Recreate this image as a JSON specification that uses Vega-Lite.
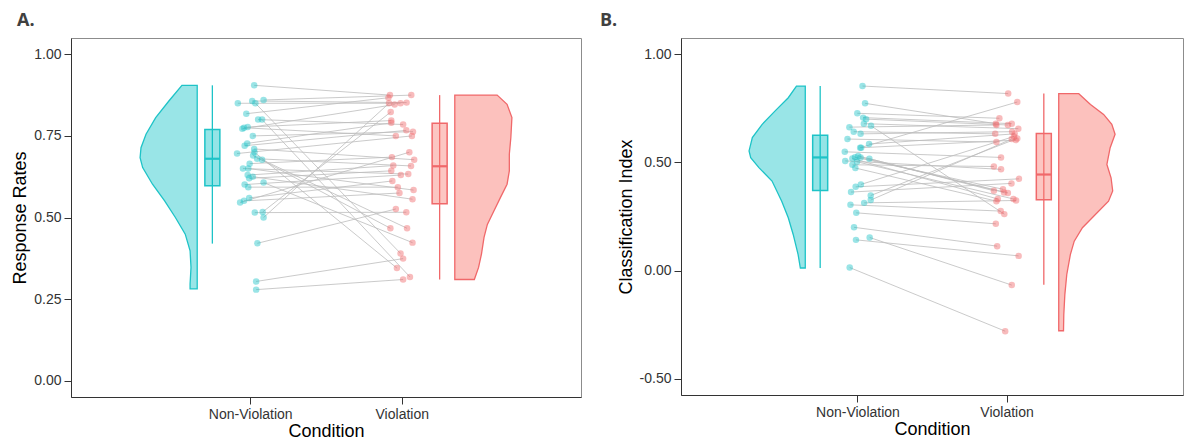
{
"$schema": "https://vega.github.io/schema/vega-lite/v6.json",
"padding": {"left": 11, "top": 11, "right": 0, "bottom": 0},
"background": "white",
"datasets": {
"ptsA": [
{"id":1,"cond":"Non-Violation","x":1.026,"y":0.905},{"id":2,"cond":"Non-Violation","x":1.088,"y":0.860},{"id":3,"cond":"Non-Violation","x":1.013,"y":0.857},{"id":4,"cond":"Non-Violation","x":0.918,"y":0.850},{"id":5,"cond":"Non-Violation","x":1.034,"y":0.850},{"id":6,"cond":"Non-Violation","x":0.974,"y":0.818},{"id":7,"cond":"Non-Violation","x":1.052,"y":0.800},{"id":8,"cond":"Non-Violation","x":1.078,"y":0.800},{"id":9,"cond":"Non-Violation","x":0.983,"y":0.777},{"id":10,"cond":"Non-Violation","x":0.959,"y":0.775},{"id":11,"cond":"Non-Violation","x":0.948,"y":0.772},{"id":12,"cond":"Non-Violation","x":1.017,"y":0.750},{"id":13,"cond":"Non-Violation","x":0.980,"y":0.727},{"id":14,"cond":"Non-Violation","x":0.963,"y":0.720},{"id":15,"cond":"Non-Violation","x":1.026,"y":0.710},{"id":16,"cond":"Non-Violation","x":1.028,"y":0.700},{"id":17,"cond":"Non-Violation","x":0.913,"y":0.696},{"id":18,"cond":"Non-Violation","x":1.019,"y":0.690},{"id":19,"cond":"Non-Violation","x":1.045,"y":0.680},{"id":20,"cond":"Non-Violation","x":1.078,"y":0.677},{"id":21,"cond":"Non-Violation","x":0.996,"y":0.665},{"id":22,"cond":"Non-Violation","x":0.952,"y":0.650},{"id":23,"cond":"Non-Violation","x":0.987,"y":0.650},{"id":24,"cond":"Non-Violation","x":0.983,"y":0.630},{"id":25,"cond":"Non-Violation","x":1.017,"y":0.625},{"id":26,"cond":"Non-Violation","x":0.993,"y":0.620},{"id":27,"cond":"Non-Violation","x":1.088,"y":0.607},{"id":28,"cond":"Non-Violation","x":0.963,"y":0.601},{"id":29,"cond":"Non-Violation","x":0.987,"y":0.593},{"id":30,"cond":"Non-Violation","x":0.993,"y":0.560},{"id":31,"cond":"Non-Violation","x":0.959,"y":0.551},{"id":32,"cond":"Non-Violation","x":0.933,"y":0.546},{"id":33,"cond":"Non-Violation","x":1.082,"y":0.517},{"id":34,"cond":"Non-Violation","x":1.030,"y":0.515},{"id":35,"cond":"Non-Violation","x":1.088,"y":0.500},{"id":36,"cond":"Non-Violation","x":1.047,"y":0.421},{"id":37,"cond":"Non-Violation","x":1.039,"y":0.304},{"id":38,"cond":"Non-Violation","x":1.039,"y":0.279},
{"id":1,"cond":"Violation","x":1.922,"y":0.875},{"id":2,"cond":"Violation","x":2.063,"y":0.875},{"id":3,"cond":"Violation","x":2.032,"y":0.852},{"id":4,"cond":"Violation","x":1.992,"y":0.850},{"id":5,"cond":"Violation","x":1.992,"y":0.390},{"id":6,"cond":"Violation","x":1.912,"y":0.867},{"id":7,"cond":"Violation","x":2.009,"y":0.785},{"id":8,"cond":"Violation","x":2.054,"y":0.318},{"id":9,"cond":"Violation","x":1.931,"y":0.797},{"id":10,"cond":"Violation","x":1.961,"y":0.750},{"id":11,"cond":"Violation","x":1.953,"y":0.846},{"id":12,"cond":"Violation","x":2.074,"y":0.763},{"id":13,"cond":"Violation","x":1.931,"y":0.790},{"id":14,"cond":"Violation","x":2.030,"y":0.767},{"id":15,"cond":"Violation","x":2.082,"y":0.677},{"id":16,"cond":"Violation","x":1.968,"y":0.345},{"id":17,"cond":"Violation","x":2.067,"y":0.750},{"id":18,"cond":"Violation","x":1.925,"y":0.467},{"id":19,"cond":"Violation","x":2.061,"y":0.658},{"id":20,"cond":"Violation","x":2.035,"y":0.467},{"id":21,"cond":"Violation","x":1.935,"y":0.685},{"id":22,"cond":"Violation","x":2.043,"y":0.633},{"id":23,"cond":"Violation","x":2.078,"y":0.584},{"id":24,"cond":"Violation","x":1.944,"y":0.659},{"id":25,"cond":"Violation","x":2.071,"y":0.556},{"id":26,"cond":"Violation","x":1.931,"y":0.643},{"id":27,"cond":"Violation","x":2.071,"y":0.423},{"id":28,"cond":"Violation","x":1.994,"y":0.630},{"id":29,"cond":"Violation","x":1.974,"y":0.593},{"id":30,"cond":"Violation","x":1.938,"y":0.612},{"id":31,"cond":"Violation","x":1.985,"y":0.575},{"id":32,"cond":"Violation","x":2.050,"y":0.700},{"id":33,"cond":"Violation","x":1.927,"y":0.823},{"id":34,"cond":"Violation","x":2.030,"y":0.516},{"id":35,"cond":"Violation","x":1.916,"y":0.850},{"id":36,"cond":"Violation","x":1.961,"y":0.526},{"id":37,"cond":"Violation","x":2.009,"y":0.374},{"id":38,"cond":"Violation","x":2.009,"y":0.310}
],
"ptsB": [
{"id":1,"cond":"Non-Violation","x":1.034,"y":0.853},{"id":2,"cond":"Non-Violation","x":1.051,"y":0.773},{"id":3,"cond":"Non-Violation","x":0.999,"y":0.727},{"id":4,"cond":"Non-Violation","x":1.038,"y":0.707},{"id":5,"cond":"Non-Violation","x":1.058,"y":0.700},{"id":6,"cond":"Non-Violation","x":1.043,"y":0.679},{"id":7,"cond":"Non-Violation","x":1.091,"y":0.669},{"id":8,"cond":"Non-Violation","x":0.946,"y":0.663},{"id":9,"cond":"Non-Violation","x":0.975,"y":0.642},{"id":10,"cond":"Non-Violation","x":1.021,"y":0.632},{"id":11,"cond":"Non-Violation","x":0.933,"y":0.608},{"id":12,"cond":"Non-Violation","x":1.078,"y":0.585},{"id":13,"cond":"Non-Violation","x":1.018,"y":0.568},{"id":14,"cond":"Non-Violation","x":1.025,"y":0.568},{"id":15,"cond":"Non-Violation","x":0.915,"y":0.549},{"id":16,"cond":"Non-Violation","x":1.005,"y":0.530},{"id":17,"cond":"Non-Violation","x":0.984,"y":0.524},{"id":18,"cond":"Non-Violation","x":1.021,"y":0.523},{"id":19,"cond":"Non-Violation","x":0.966,"y":0.518},{"id":20,"cond":"Non-Violation","x":1.080,"y":0.517},{"id":21,"cond":"Non-Violation","x":0.918,"y":0.507},{"id":22,"cond":"Non-Violation","x":0.997,"y":0.503},{"id":23,"cond":"Non-Violation","x":0.966,"y":0.489},{"id":24,"cond":"Non-Violation","x":0.986,"y":0.474},{"id":25,"cond":"Non-Violation","x":1.023,"y":0.398},{"id":26,"cond":"Non-Violation","x":0.988,"y":0.387},{"id":27,"cond":"Non-Violation","x":0.957,"y":0.363},{"id":28,"cond":"Non-Violation","x":1.089,"y":0.347},{"id":29,"cond":"Non-Violation","x":1.089,"y":0.326},{"id":30,"cond":"Non-Violation","x":1.045,"y":0.313},{"id":31,"cond":"Non-Violation","x":0.953,"y":0.304},{"id":32,"cond":"Non-Violation","x":0.992,"y":0.267},{"id":33,"cond":"Non-Violation","x":0.977,"y":0.200},{"id":34,"cond":"Non-Violation","x":1.082,"y":0.153},{"id":35,"cond":"Non-Violation","x":0.990,"y":0.142},{"id":36,"cond":"Non-Violation","x":0.948,"y":0.014},
{"id":1,"cond":"Violation","x":2.011,"y":0.818},{"id":2,"cond":"Violation","x":1.928,"y":0.679},{"id":3,"cond":"Violation","x":1.952,"y":0.704},{"id":4,"cond":"Violation","x":2.035,"y":0.679},{"id":5,"cond":"Violation","x":2.009,"y":0.673},{"id":6,"cond":"Violation","x":2.079,"y":0.656},{"id":7,"cond":"Violation","x":1.985,"y":0.261},{"id":8,"cond":"Violation","x":1.932,"y":0.673},{"id":9,"cond":"Violation","x":1.924,"y":0.632},{"id":10,"cond":"Violation","x":2.037,"y":0.642},{"id":11,"cond":"Violation","x":1.932,"y":0.594},{"id":12,"cond":"Violation","x":2.055,"y":0.632},{"id":13,"cond":"Violation","x":2.072,"y":0.779},{"id":14,"cond":"Violation","x":2.062,"y":0.603},{"id":15,"cond":"Violation","x":1.963,"y":0.523},{"id":16,"cond":"Violation","x":1.983,"y":0.361},{"id":17,"cond":"Violation","x":1.976,"y":0.376},{"id":18,"cond":"Violation","x":2.009,"y":0.359},{"id":19,"cond":"Violation","x":1.941,"y":0.331},{"id":20,"cond":"Violation","x":1.915,"y":0.369},{"id":21,"cond":"Violation","x":1.963,"y":0.468},{"id":22,"cond":"Violation","x":2.046,"y":0.331},{"id":23,"cond":"Violation","x":1.915,"y":0.481},{"id":24,"cond":"Violation","x":1.932,"y":0.321},{"id":25,"cond":"Violation","x":2.050,"y":0.620},{"id":26,"cond":"Violation","x":2.083,"y":0.424},{"id":27,"cond":"Violation","x":2.033,"y":0.403},{"id":28,"cond":"Violation","x":2.072,"y":0.611},{"id":29,"cond":"Violation","x":2.035,"y":0.608},{"id":30,"cond":"Violation","x":2.064,"y":0.324},{"id":31,"cond":"Violation","x":1.961,"y":0.275},{"id":32,"cond":"Violation","x":1.928,"y":0.216},{"id":33,"cond":"Violation","x":1.937,"y":0.113},{"id":34,"cond":"Violation","x":2.035,"y":-0.067},{"id":35,"cond":"Violation","x":2.081,"y":0.068},{"id":36,"cond":"Violation","x":1.991,"y":-0.280}
],
"violA": [
{"cond":"Non-Violation","y":0.281,"edge":0.603},{"cond":"Non-Violation","y":0.296,"edge":0.603},{"cond":"Non-Violation","y":0.347,"edge":0.609},{"cond":"Non-Violation","y":0.398,"edge":0.603},{"cond":"Non-Violation","y":0.449,"edge":0.571},{"cond":"Non-Violation","y":0.500,"edge":0.506},{"cond":"Non-Violation","y":0.551,"edge":0.435},{"cond":"Non-Violation","y":0.602,"edge":0.355},{"cond":"Non-Violation","y":0.653,"edge":0.290},{"cond":"Non-Violation","y":0.683,"edge":0.273},{"cond":"Non-Violation","y":0.714,"edge":0.279},{"cond":"Non-Violation","y":0.755,"edge":0.312},{"cond":"Non-Violation","y":0.806,"edge":0.376},{"cond":"Non-Violation","y":0.857,"edge":0.463},{"cond":"Non-Violation","y":0.905,"edge":0.549},
{"cond":"Violation","y":0.310,"edge":2.479},{"cond":"Violation","y":0.347,"edge":2.507},{"cond":"Violation","y":0.388,"edge":2.526},{"cond":"Violation","y":0.439,"edge":2.543},{"cond":"Violation","y":0.479,"edge":2.565},{"cond":"Violation","y":0.520,"edge":2.608},{"cond":"Violation","y":0.561,"edge":2.651},{"cond":"Violation","y":0.602,"edge":2.695},{"cond":"Violation","y":0.643,"edge":2.710},{"cond":"Violation","y":0.694,"edge":2.710},{"cond":"Violation","y":0.745,"edge":2.720},{"cond":"Violation","y":0.806,"edge":2.727},{"cond":"Violation","y":0.847,"edge":2.695},{"cond":"Violation","y":0.875,"edge":2.630}
],
"violB": [
{"cond":"Non-Violation","y":0.012,"edge":0.617},{"cond":"Non-Violation","y":0.074,"edge":0.602},{"cond":"Non-Violation","y":0.167,"edge":0.569},{"cond":"Non-Violation","y":0.244,"edge":0.536},{"cond":"Non-Violation","y":0.321,"edge":0.492},{"cond":"Non-Violation","y":0.414,"edge":0.427},{"cond":"Non-Violation","y":0.476,"edge":0.339},{"cond":"Non-Violation","y":0.522,"edge":0.284},{"cond":"Non-Violation","y":0.553,"edge":0.273},{"cond":"Non-Violation","y":0.615,"edge":0.295},{"cond":"Non-Violation","y":0.676,"edge":0.361},{"cond":"Non-Violation","y":0.738,"edge":0.448},{"cond":"Non-Violation","y":0.799,"edge":0.536},{"cond":"Non-Violation","y":0.853,"edge":0.591},
{"cond":"Violation","y":-0.278,"edge":2.382},{"cond":"Violation","y":-0.203,"edge":2.384},{"cond":"Violation","y":-0.111,"edge":2.391},{"cond":"Violation","y":-0.018,"edge":2.404},{"cond":"Violation","y":0.074,"edge":2.428},{"cond":"Violation","y":0.136,"edge":2.454},{"cond":"Violation","y":0.198,"edge":2.509},{"cond":"Violation","y":0.259,"edge":2.596},{"cond":"Violation","y":0.321,"edge":2.684},{"cond":"Violation","y":0.368,"edge":2.712},{"cond":"Violation","y":0.429,"edge":2.701},{"cond":"Violation","y":0.491,"edge":2.673},{"cond":"Violation","y":0.568,"edge":2.695},{"cond":"Violation","y":0.630,"edge":2.728},{"cond":"Violation","y":0.676,"edge":2.706},{"cond":"Violation","y":0.722,"edge":2.651},{"cond":"Violation","y":0.768,"edge":2.563},{"cond":"Violation","y":0.818,"edge":2.483}
],
"boxA": [
{"cond":"Non-Violation","pos":0.75,"lo":0.42,"q1":0.597,"med":0.68,"q3":0.77,"hi":0.905},
{"cond":"Violation","pos":2.25,"lo":0.31,"q1":0.542,"med":0.657,"q3":0.789,"hi":0.875}
],
"boxB": [
{"cond":"Non-Violation","pos":0.75,"lo":0.012,"q1":0.370,"med":0.523,"q3":0.626,"hi":0.853},
{"cond":"Violation","pos":2.25,"lo":-0.065,"q1":0.327,"med":0.444,"q3":0.634,"hi":0.818}
]
},
"hconcat": [
{
"width": 510, "height": 359,
"title": {"text": "A.", "anchor": "start", "frame": "group", "dx": -54, "offset": -6, "baseline": "alphabetic", "fontSize": 18, "fontWeight": "bold", "font": "Open Sans", "color": "#404040"},
"layer": [
{"data": {"name": "ptsA"}, "mark": {"type": "line", "color": "#bdbdbd", "strokeWidth": 1, "opacity": 0.8},
 "encoding": {
  "x": {"field": "x", "type": "quantitative", "scale": {"domain": [-0.15, 3.15], "nice": false, "zero": false}, "axis": {"values": [1, 2], "labelExpr": "datum.value == 1 ? 'Non-Violation' : 'Violation'"}, "title": "Condition"},
  "y": {"field": "y", "type": "quantitative", "scale": {"domain": [-0.05, 1.05], "nice": false, "zero": false}, "axis": {"values": [0, 0.25, 0.5, 0.75, 1], "format": ".2f"}, "title": "Response Rates"},
  "detail": {"field": "id", "type": "nominal"}}},
{"data": {"name": "boxA"}, "mark": {"type": "rule", "strokeWidth": 1.3},
 "encoding": {
  "x": {"field": "pos", "type": "quantitative", "scale": {"domain": [-0.15, 3.15], "nice": false, "zero": false}, "title": "Condition"},
  "y": {"field": "lo", "type": "quantitative", "scale": {"domain": [-0.05, 1.05], "nice": false, "zero": false}, "title": "Response Rates"},
  "y2": {"field": "hi"},
  "color": {"field": "cond", "type": "nominal", "scale": {"domain": ["Non-Violation", "Violation"], "range": ["#1ec3c7", "#f0686a"]}, "legend": null}}},
{"data": {"name": "boxA"}, "mark": {"type": "bar", "width": 15, "opacity": 1, "fillOpacity": 0.42, "strokeWidth": 1.5},
 "encoding": {
  "x": {"field": "pos", "type": "quantitative", "scale": {"domain": [-0.15, 3.15], "nice": false, "zero": false}, "title": "Condition"},
  "y": {"field": "q1", "type": "quantitative", "scale": {"domain": [-0.05, 1.05], "nice": false, "zero": false}, "title": "Response Rates"},
  "y2": {"field": "q3"},
  "fill": {"field": "cond", "type": "nominal", "scale": {"domain": ["Non-Violation", "Violation"], "range": ["#00BFC4", "#F8766D"]}, "legend": null},
  "stroke": {"field": "cond", "type": "nominal", "scale": {"domain": ["Non-Violation", "Violation"], "range": ["#1ec3c7", "#f0686a"]}, "legend": null}}},
{"data": {"name": "boxA"}, "mark": {"type": "tick", "orient": "horizontal", "size": 15, "thickness": 2.2, "opacity": 1},
 "encoding": {
  "x": {"field": "pos", "type": "quantitative", "scale": {"domain": [-0.15, 3.15], "nice": false, "zero": false}, "title": "Condition"},
  "y": {"field": "med", "type": "quantitative", "scale": {"domain": [-0.05, 1.05], "nice": false, "zero": false}, "title": "Response Rates"},
  "color": {"field": "cond", "type": "nominal", "scale": {"domain": ["Non-Violation", "Violation"], "range": ["#1ec3c7", "#f0686a"]}, "legend": null}}},
{"data": {"name": "violA"}, "transform": [{"filter": "datum.cond == 'Non-Violation'"}], "mark": {"type": "area", "orient": "horizontal", "opacity": 1, "fillOpacity": 0.4, "strokeWidth": 1.3},
 "encoding": {
  "y": {"field": "y", "type": "quantitative", "scale": {"domain": [-0.05, 1.05], "nice": false, "zero": false}, "title": "Response Rates"},
  "x": {"field": "edge", "type": "quantitative", "stack": null, "scale": {"domain": [-0.15, 3.15], "nice": false, "zero": false}, "title": "Condition"},
  "x2": {"datum": 0.65},
  "fill": {"field": "cond", "type": "nominal", "scale": {"domain": ["Non-Violation", "Violation"], "range": ["#00BFC4", "#F8766D"]}, "legend": null},
  "stroke": {"field": "cond", "type": "nominal", "scale": {"domain": ["Non-Violation", "Violation"], "range": ["#1ec3c7", "#f0686a"]}, "legend": null}}},
{"data": {"name": "violA"}, "transform": [{"filter": "datum.cond == 'Violation'"}], "mark": {"type": "area", "orient": "horizontal", "opacity": 1, "fillOpacity": 0.45, "strokeWidth": 1.3},
 "encoding": {
  "y": {"field": "y", "type": "quantitative", "scale": {"domain": [-0.05, 1.05], "nice": false, "zero": false}, "title": "Response Rates"},
  "x": {"field": "edge", "type": "quantitative", "stack": null, "scale": {"domain": [-0.15, 3.15], "nice": false, "zero": false}, "title": "Condition"},
  "x2": {"datum": 2.35},
  "fill": {"field": "cond", "type": "nominal", "scale": {"domain": ["Non-Violation", "Violation"], "range": ["#00BFC4", "#F8766D"]}, "legend": null},
  "stroke": {"field": "cond", "type": "nominal", "scale": {"domain": ["Non-Violation", "Violation"], "range": ["#1ec3c7", "#f0686a"]}, "legend": null}}},
{"data": {"name": "ptsA"}, "mark": {"type": "circle", "size": 42, "opacity": 0.45},
 "encoding": {
  "x": {"field": "x", "type": "quantitative", "scale": {"domain": [-0.15, 3.15], "nice": false, "zero": false}, "title": "Condition"},
  "y": {"field": "y", "type": "quantitative", "scale": {"domain": [-0.05, 1.05], "nice": false, "zero": false}, "title": "Response Rates"},
  "color": {"field": "cond", "type": "nominal", "scale": {"domain": ["Non-Violation", "Violation"], "range": ["#1ec3c7", "#f0686a"]}, "legend": null}}}
]
},
{
"width": 502, "height": 357,
"title": {"text": "B.", "anchor": "start", "frame": "group", "dx": -81, "offset": -6, "baseline": "alphabetic", "fontSize": 18, "fontWeight": "bold", "font": "Open Sans", "color": "#404040"},
"layer": [
{"data": {"name": "ptsB"}, "mark": {"type": "line", "color": "#bdbdbd", "strokeWidth": 1, "opacity": 0.8},
 "encoding": {
  "x": {"field": "x", "type": "quantitative", "scale": {"domain": [-0.15, 3.15], "nice": false, "zero": false}, "axis": {"values": [1, 2], "labelExpr": "datum.value == 1 ? 'Non-Violation' : 'Violation'"}, "title": "Condition"},
  "y": {"field": "y", "type": "quantitative", "scale": {"domain": [-0.575, 1.075], "nice": false, "zero": false}, "axis": {"values": [-0.5, 0, 0.5, 1], "labelExpr": "replace(format(datum.value, '.2f'), '\u2212', '-')"}, "title": "Classification Index"},
  "detail": {"field": "id", "type": "nominal"}}},
{"data": {"name": "boxB"}, "mark": {"type": "rule", "strokeWidth": 1.3},
 "encoding": {
  "x": {"field": "pos", "type": "quantitative", "scale": {"domain": [-0.15, 3.15], "nice": false, "zero": false}, "title": "Condition"},
  "y": {"field": "lo", "type": "quantitative", "scale": {"domain": [-0.575, 1.075], "nice": false, "zero": false}, "title": "Classification Index"},
  "y2": {"field": "hi"},
  "color": {"field": "cond", "type": "nominal", "scale": {"domain": ["Non-Violation", "Violation"], "range": ["#1ec3c7", "#f0686a"]}, "legend": null}}},
{"data": {"name": "boxB"}, "mark": {"type": "bar", "width": 15, "opacity": 1, "fillOpacity": 0.42, "strokeWidth": 1.5},
 "encoding": {
  "x": {"field": "pos", "type": "quantitative", "scale": {"domain": [-0.15, 3.15], "nice": false, "zero": false}, "title": "Condition"},
  "y": {"field": "q1", "type": "quantitative", "scale": {"domain": [-0.575, 1.075], "nice": false, "zero": false}, "title": "Classification Index"},
  "y2": {"field": "q3"},
  "fill": {"field": "cond", "type": "nominal", "scale": {"domain": ["Non-Violation", "Violation"], "range": ["#00BFC4", "#F8766D"]}, "legend": null},
  "stroke": {"field": "cond", "type": "nominal", "scale": {"domain": ["Non-Violation", "Violation"], "range": ["#1ec3c7", "#f0686a"]}, "legend": null}}},
{"data": {"name": "boxB"}, "mark": {"type": "tick", "orient": "horizontal", "size": 15, "thickness": 2.2, "opacity": 1},
 "encoding": {
  "x": {"field": "pos", "type": "quantitative", "scale": {"domain": [-0.15, 3.15], "nice": false, "zero": false}, "title": "Condition"},
  "y": {"field": "med", "type": "quantitative", "scale": {"domain": [-0.575, 1.075], "nice": false, "zero": false}, "title": "Classification Index"},
  "color": {"field": "cond", "type": "nominal", "scale": {"domain": ["Non-Violation", "Violation"], "range": ["#1ec3c7", "#f0686a"]}, "legend": null}}},
{"data": {"name": "violB"}, "transform": [{"filter": "datum.cond == 'Non-Violation'"}], "mark": {"type": "area", "orient": "horizontal", "opacity": 1, "fillOpacity": 0.4, "strokeWidth": 1.3},
 "encoding": {
  "y": {"field": "y", "type": "quantitative", "scale": {"domain": [-0.575, 1.075], "nice": false, "zero": false}, "title": "Classification Index"},
  "x": {"field": "edge", "type": "quantitative", "stack": null, "scale": {"domain": [-0.15, 3.15], "nice": false, "zero": false}, "title": "Condition"},
  "x2": {"datum": 0.65},
  "fill": {"field": "cond", "type": "nominal", "scale": {"domain": ["Non-Violation", "Violation"], "range": ["#00BFC4", "#F8766D"]}, "legend": null},
  "stroke": {"field": "cond", "type": "nominal", "scale": {"domain": ["Non-Violation", "Violation"], "range": ["#1ec3c7", "#f0686a"]}, "legend": null}}},
{"data": {"name": "violB"}, "transform": [{"filter": "datum.cond == 'Violation'"}], "mark": {"type": "area", "orient": "horizontal", "opacity": 1, "fillOpacity": 0.45, "strokeWidth": 1.3},
 "encoding": {
  "y": {"field": "y", "type": "quantitative", "scale": {"domain": [-0.575, 1.075], "nice": false, "zero": false}, "title": "Classification Index"},
  "x": {"field": "edge", "type": "quantitative", "stack": null, "scale": {"domain": [-0.15, 3.15], "nice": false, "zero": false}, "title": "Condition"},
  "x2": {"datum": 2.35},
  "fill": {"field": "cond", "type": "nominal", "scale": {"domain": ["Non-Violation", "Violation"], "range": ["#00BFC4", "#F8766D"]}, "legend": null},
  "stroke": {"field": "cond", "type": "nominal", "scale": {"domain": ["Non-Violation", "Violation"], "range": ["#1ec3c7", "#f0686a"]}, "legend": null}}},
{"data": {"name": "ptsB"}, "mark": {"type": "circle", "size": 42, "opacity": 0.45},
 "encoding": {
  "x": {"field": "x", "type": "quantitative", "scale": {"domain": [-0.15, 3.15], "nice": false, "zero": false}, "title": "Condition"},
  "y": {"field": "y", "type": "quantitative", "scale": {"domain": [-0.575, 1.075], "nice": false, "zero": false}, "title": "Classification Index"},
  "color": {"field": "cond", "type": "nominal", "scale": {"domain": ["Non-Violation", "Violation"], "range": ["#1ec3c7", "#f0686a"]}, "legend": null}}}
]
}
],
"spacing": 100,
"bounds": "flush",
"resolve": {"scale": {"x": "independent", "y": "independent"}},
"config": {
 "view": {"stroke": "#8c8c8c", "strokeWidth": 1},
 "axis": {"grid": false, "domainColor": "#333333", "tickColor": "#333333", "tickSize": 7, "labelFont": "Liberation Sans", "labelFontSize": 14, "labelColor": "#333333", "titleFont": "Liberation Sans", "titleFontSize": 18, "titleFontWeight": "normal", "titleColor": "#000000"},
 "axisY": {"titlePadding": 4, "labelPadding": 3},
 "axisX": {"titlePadding": 1, "labelPadding": 3}
}
}
